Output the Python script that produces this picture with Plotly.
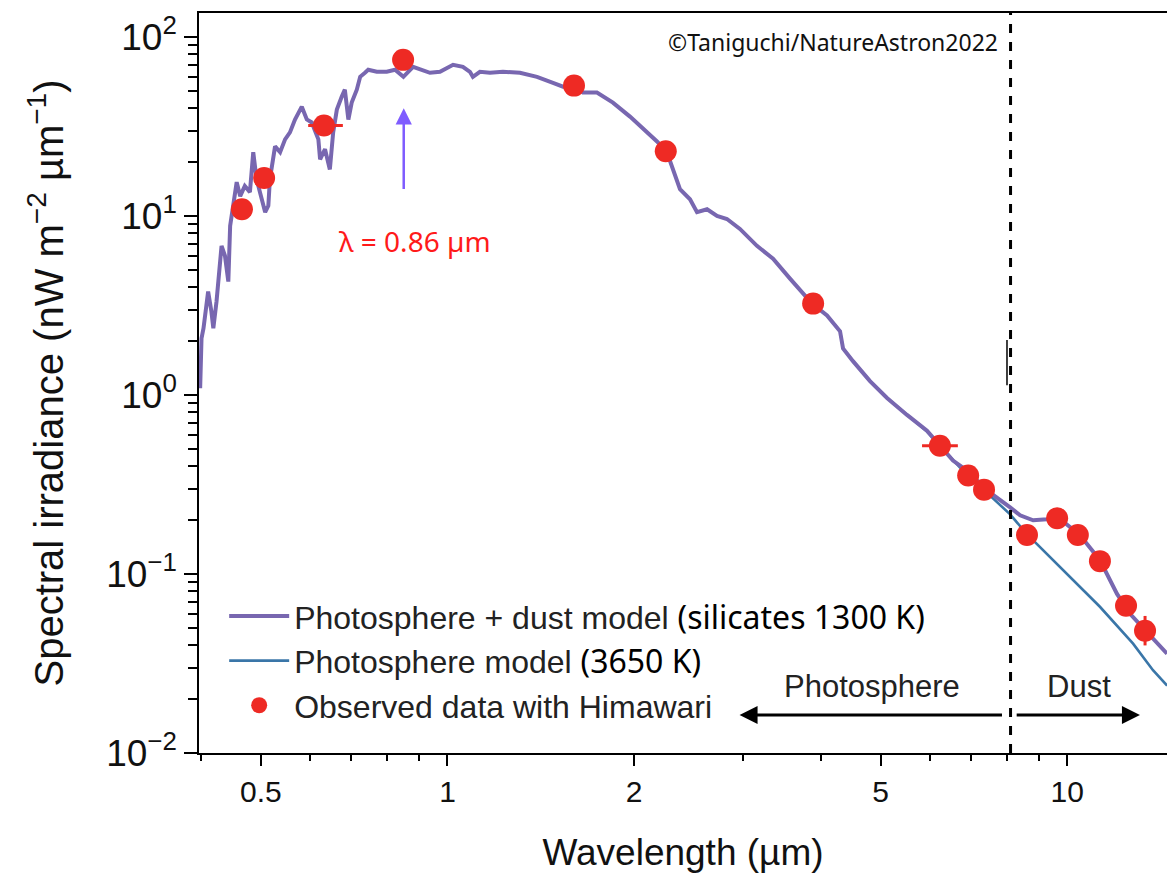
import math
import plotly.graph_objects as go

# ---------------- data ----------------
# Photosphere + dust model spectrum (wavelength in um, irradiance in nW m^-2 um^-1)
dust_wl = [0.399, 0.401, 0.404, 0.411, 0.416, 0.419, 0.424, 0.432, 0.4375, 0.443,
           0.446, 0.4485, 0.454, 0.457, 0.463, 0.471, 0.480, 0.486, 0.492, 0.501,
           0.508, 0.514, 0.517, 0.527, 0.537, 0.547, 0.557, 0.5675, 0.582, 0.593,
           0.604, 0.619, 0.623, 0.6345, 0.646, 0.654, 0.663, 0.675, 0.683, 0.692,
           0.7006, 0.714, 0.723, 0.736, 0.745, 0.769, 0.798, 0.823, 0.849, 0.880,
           0.913, 0.937, 0.9725, 1.021, 1.059, 1.087, 1.099, 1.128, 1.171, 1.229,
           1.309, 1.3945, 1.480, 1.536, 1.618, 1.654, 1.7425, 1.849, 1.970, 2.099,
           2.178, 2.260, 2.311, 2.372, 2.462, 2.527, 2.623, 2.722, 2.8245, 2.964,
           3.157, 3.352, 3.570, 3.874, 4.096, 4.299, 4.347, 4.511, 4.805, 5.119,
           5.513, 5.938, 6.232, 6.541, 6.890, 7.421, 8.087, 8.392, 8.809, 9.278,
           9.661, 10.483, 11.289, 12.030, 12.625, 13.447, 14.488]
dust_flux = [1.09, 2.07, 2.36, 3.78, 2.93, 2.36, 3.33, 6.81, 5.99, 4.30,
             8.80, 10.0, 13.6, 15.45, 12.9, 14.7, 13.6, 22.7, 16.05, 12.9,
             10.5, 11.4, 16.05, 24.5, 22.7, 26.8, 29.3, 34.6, 40.8, 34.6,
             33.3, 26.8, 20.7, 23.6, 18.2, 29.3, 39.3, 46.4, 50.8, 34.6,
             43.0, 50.8, 59.9, 63.1, 65.6, 63.9, 63.9, 65.6, 59.9, 68.1,
             65.6, 63.1, 63.9, 69.9, 68.1, 63.9, 59.9, 63.9, 63.1, 63.9,
             63.1, 59.9, 55.5, 52.8, 52.8, 48.9, 48.9, 43.0, 35.9, 29.3,
             26.1, 22.7, 18.2, 14.1, 12.4, 10.5, 10.9, 10.0, 9.62, 8.47,
             6.81, 5.77, 4.47, 3.24, 2.78, 2.27, 1.82, 1.545, 1.196, 0.962,
             0.774, 0.631, 0.521, 0.430, 0.378, 0.293, 0.2357, 0.2128, 0.1995, 0.2020,
             0.2073, 0.1646, 0.1196, 0.0774, 0.0599, 0.0476, 0.0359]

# Photosphere-only model (visible part, beyond where it separates from the dust model)
photo_wl = [3.874, 4.096, 4.299, 4.347, 4.511, 4.805, 5.119, 5.513, 5.938, 6.714,
            8.087, 8.610, 9.989, 11.289, 12.77, 13.75, 14.49]
photo_flux = [3.24, 2.78, 2.27, 1.82, 1.545, 1.196, 0.962, 0.774, 0.625, 0.393,
              0.2154, 0.1668, 0.100, 0.0656, 0.0408, 0.0290, 0.0238]

# Himawari observations
obs_wl = [0.466, 0.506, 0.632, 0.848, 1.60, 2.25, 3.89, 6.23, 6.92, 7.34,
          8.61, 9.63, 10.4, 11.29, 12.44, 13.35]
obs_flux = [10.9, 16.3, 32.0, 74.5, 53.5, 23.0, 3.24, 0.52, 0.355, 0.296,
            0.165, 0.205, 0.165, 0.118, 0.0664, 0.0482]
obs_xerr_plus = [0, 0, 0.046, 0, 0, 0, 0, 0.43, 0, 0, 0, 0, 0, 0, 0, 0]
obs_xerr_minus = [0, 0, 0.036, 0, 0, 0, 0, 0.40, 0, 0, 0, 0, 0, 0, 0, 0]
obs_yerr_plus = [0] * 15 + [0.0101]
obs_yerr_minus = [0] * 15 + [0.0083]

x_ticks = [0.5, 1, 2, 5, 10]
x_ticktext = ["0.5", "1", "2", "5", "10"]
x_minor = [0.4, 0.6, 0.7, 0.8, 0.9, 3, 4, 6, 7, 8, 9]
y_ticks = [0.01, 0.1, 1, 10, 100]
y_ticktext = ["10<sup>−2</sup>", "10<sup>−1</sup>", "10<sup>0</sup>", "10<sup>1</sup>", "10<sup>2</sup>"]
y_minor = [m * 10 ** e for e in range(-2, 2) for m in range(2, 10)]

x_range = [-0.4009, 1.1609]
y_range = [-2.0, 2.134]

boundary_wl = 8.1          # photosphere / dust boundary
marker_wl = 0.85           # lambda = 0.86 um arrow
arrow_lo, arrow_hi = 13.9, 40.0
label_wl, label_flux = 0.886, 7.25
region_arrow_flux = 0.0163
photo_arrow = (7.89, 2.96)
dust_arrow = (8.24, 13.1)

PURPLE = "#7867b0"
BLUE = "#3a76a8"
RED = "#ee2a24"
FONT = "Liberation Sans, Arial, Helvetica, sans-serif"
ALT = "Noto Sans, DejaVu Sans, sans-serif"

L = math.log10

fig = go.Figure()

fig.add_trace(go.Scatter(
    x=photo_wl, y=photo_flux, mode="lines",
    line=dict(color=BLUE, width=2.6),
    name=f'Photosphere model <span style="font-family:{ALT};color:#000">(3650 K)</span>',
    legendrank=2))

fig.add_trace(go.Scatter(
    x=dust_wl, y=dust_flux, mode="lines",
    line=dict(color=PURPLE, width=4),
    name=f'Photosphere + dust model <span style="font-family:{ALT};color:#000">(silicates 1300 K)</span>',
    legendrank=1))

fig.add_trace(go.Scatter(
    x=obs_wl, y=obs_flux, mode="markers",
    marker=dict(color=RED, size=22),
    error_x=dict(type="data", symmetric=False, array=obs_xerr_plus, arrayminus=obs_xerr_minus,
                 color=RED, thickness=3, width=0),
    error_y=dict(type="data", symmetric=False, array=obs_yerr_plus, arrayminus=obs_yerr_minus,
                 color=RED, thickness=3, width=0),
    name="Observed data with Himawari",
    legendrank=3))

axis_common = dict(showgrid=False, zeroline=False)

fig.update_layout(
    width=1167, height=875,
    margin=dict(l=199, r=0, t=13, b=122),
    paper_bgcolor="white", plot_bgcolor="white",
    font=dict(family=FONT, color="#111"),
    showlegend=True,
    legend=dict(x=0.026, y=0.222, xanchor="left", yanchor="top",
                bgcolor="rgba(0,0,0,0)", borderwidth=0,
                font=dict(family=FONT, size=32, color="#222"),
                itemwidth=60, tracegroupgap=0),
    xaxis=dict(type="log", range=x_range, tickmode="array", tickvals=x_ticks, ticktext=x_ticktext,
               ticks="outside", ticklen=11, tickwidth=1.5, tickcolor="black",
               minor=dict(tickmode="array", tickvals=x_minor, ticks="outside", ticklen=6,
                          tickwidth=1.5, tickcolor="black"),
               tickfont=dict(family=FONT, size=30, color="#111"),
               showline=True, linecolor="black", linewidth=1.5, mirror=True,
               title=dict(text="Wavelength (µm)", font=dict(family=FONT, size=37, color="#111"),
                          standoff=32),
               **axis_common),
    xaxis2=dict(type="log", range=x_range, overlaying="x", anchor="y", side="bottom",
                tickmode="array", tickvals=x_ticks, showticklabels=False,
                ticks="inside", ticklen=11, tickwidth=1.5, tickcolor="black",
                minor=dict(tickmode="array", tickvals=x_minor, ticks="inside", ticklen=6,
                           tickwidth=1.5, tickcolor="black"),
                showline=False, **axis_common),
    yaxis=dict(type="log", range=y_range, tickmode="array", tickvals=y_ticks, ticktext=y_ticktext,
               ticks="outside", ticklen=13, tickwidth=1.5, tickcolor="black",
               minor=dict(tickmode="array", tickvals=y_minor, ticks="outside", ticklen=9,
                          tickwidth=1.5, tickcolor="black"),
               tickfont=dict(family=FONT, size=37, color="#111"),
               showline=True, linecolor="black", linewidth=1.5,
               title=dict(text="Spectral irradiance (nW m<sup>−2</sup> µm<sup>−1</sup>)",
                          font=dict(family=FONT, size=40, color="#111"), standoff=30),
               **axis_common),
)

# photosphere / dust boundary (shapes take data values on log axes)
fig.add_shape(type="line", xref="x", yref="paper", x0=boundary_wl, x1=boundary_wl,
              y0=0, y1=1, line=dict(color="black", width=3, dash="dash"))
# small stray vertical stroke present in the reference image
fig.add_shape(type="line", xref="paper", yref="paper", x0=0.8347, x1=0.8347, y0=0.497, y1=0.558,
              line=dict(color="black", width=1.5))

ann = []
# lambda = 0.86 um arrow
ann.append(dict(x=L(marker_wl), y=L(arrow_hi), ax=L(marker_wl), ay=L(arrow_lo),
                xref="x", yref="y", axref="x", ayref="y", text="", showarrow=True,
                arrowhead=2, arrowsize=1.3, arrowwidth=2.5, arrowcolor="#7f5cff"))
ann.append(dict(x=L(label_wl), y=L(label_flux), xref="x", yref="y", text="λ = 0.86 µm",
                xanchor="center", yanchor="middle",
                showarrow=False, font=dict(family=ALT, size=28, color="#ff1a1a")))
# region arrows
ann.append(dict(x=L(photo_arrow[1]), y=L(region_arrow_flux), ax=L(photo_arrow[0]), ay=L(region_arrow_flux),
                xref="x", yref="y", axref="x", ayref="y", text="", showarrow=True,
                arrowhead=2, arrowsize=1.2, arrowwidth=3, arrowcolor="black"))
ann.append(dict(x=L(dust_arrow[1]), y=L(region_arrow_flux), ax=L(dust_arrow[0]), ay=L(region_arrow_flux),
                xref="x", yref="y", axref="x", ayref="y", text="", showarrow=True,
                arrowhead=2, arrowsize=1.2, arrowwidth=3, arrowcolor="black"))
ann.append(dict(x=0.695, y=0.0905, xref="paper", yref="paper", text="Photosphere",
                xanchor="center", yanchor="middle",
                showarrow=False, font=dict(family=FONT, size=31, color="#222")))
ann.append(dict(x=0.909, y=0.0905, xref="paper", yref="paper", text="Dust",
                xanchor="center", yanchor="middle",
                showarrow=False, font=dict(family=FONT, size=31, color="#222")))
ann.append(dict(x=0.8275, y=0.9608, xref="paper", yref="paper", xanchor="right", yanchor="middle",
                text="©Taniguchi/NatureAstron2022", showarrow=False,
                font=dict(family=ALT, size=23, color="#111")))
fig.update_layout(annotations=ann)

fig.write_html("out.html")
